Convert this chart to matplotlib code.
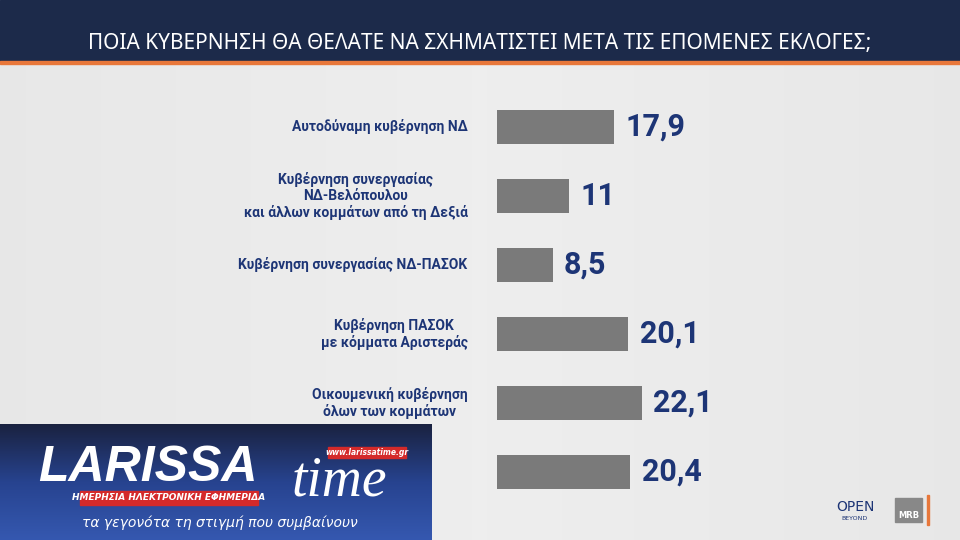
import matplotlib
matplotlib.use("Agg")
import matplotlib.pyplot as plt
import numpy as np
from matplotlib.patches import Rectangle

title = "ΠΟΙΑ ΚΥΒΕΡΝΗΣΗ ΘΑ ΘΕΛΑΤΕ ΝΑ ΣΧΗΜΑΤΙΣΤΕΙ ΜΕΤΑ ΤΙΣ ΕΠΟΜΕΝΕΣ ΕΚΛΟΓΕΣ;"
categories = ["Αυτοδύναμη κυβέρνηση ΝΔ",
              "Κυβέρνηση συνεργασίας\nΝΔ-Βελόπουλου\nκαι άλλων κομμάτων από τη Δεξιά",
              "Κυβέρνηση συνεργασίας ΝΔ-ΠΑΣΟΚ",
              "Κυβέρνηση ΠΑΣΟΚ\nμε κόμματα Αριστεράς",
              "Οικουμενική κυβέρνηση\nόλων των κομμάτων",
              ""]
values = [17.9, 11, 8.5, 20.1, 22.1, 20.4]
value_labels = ["17,9", "11", "8,5", "20,1", "22,1", "20,4"]

W, H = 960, 540
fig = plt.figure(figsize=(9.6, 5.4), dpi=100)
bg = fig.add_axes([0, 0, 1, 1])
bg.set_xlim(0, W); bg.set_ylim(H, 0); bg.axis("off")
grad = np.linspace(0, 1, 256)[None, :]
bg.imshow(0.93 - 0.05 * np.abs(grad - 0.5), cmap="gray", vmin=0, vmax=1,
          extent=[0, W, H, 0], aspect="auto")
bg.add_patch(Rectangle((0, 0), W, 61, color="#1c2a4a"))
bg.add_patch(Rectangle((0, 61), W, 3, color="#e8773a"))
bg.text(W / 2, 44, title, color="white", fontsize=15, ha="center", va="center",
        family="Noto Sans")

navy = "#1d3576"
ax = fig.add_axes([497 / W, 1 - 506.5 / H, (957 - 497) / W, (506.5 - 92.5) / H])
ax.set_xlim(0, 460 / 6.54)
ax.set_ylim(5.5, -0.5)
ax.axis("off")
y = np.arange(len(values))
ax.barh(y, values, height=0.5, color="#7a7a7a")
for yi, v, lab, cat in zip(y, values, value_labels, categories):
    ax.text(v + 1.7, yi, lab, color=navy, fontsize=22, fontweight="bold",
            va="center", ha="left", family="Roboto")
    ax.text(-4.5, yi, cat, color=navy, fontsize=10, fontweight="bold",
            va="center", ha="right", multialignment="center", family="Roboto",
            linespacing=1.15)

# logo overlay bottom-left
lg = np.linspace(0, 1, 128)[:, None]
bg.imshow(lg, cmap=matplotlib.colors.LinearSegmentedColormap.from_list(
    "b", ["#1a2240", "#27438f", "#3558b0"]), extent=[0, 432, 540, 424], aspect="auto")
bg.text(38, 468, "LARISSA", color="white", fontsize=36, fontweight="bold",
        style="italic", va="center", family="Liberation Sans")
bg.text(292, 482, "time", color="white", fontsize=40, style="italic",
        va="center", family="Liberation Serif")
bg.add_patch(Rectangle((80, 491), 178, 14, color="#d42a2a"))
bg.text(169, 498, "ΗΜΕΡΗΣΙΑ ΗΛΕΚΤΡΟΝΙΚΗ ΕΦΗΜΕΡΙΔΑ", color="white", fontsize=6.5,
        fontweight="bold", style="italic", ha="center", va="center")
bg.add_patch(Rectangle((328, 447), 78, 11, color="#d42a2a"))
bg.text(367, 452.5, "www.larissatime.gr", color="white", fontsize=5.5,
        fontweight="bold", style="italic", ha="center", va="center")
bg.text(220, 523, "τα γεγονότα τη στιγμή που συμβαίνουν", color="white",
        fontsize=10, style="italic", ha="center", va="center")

# bottom-right logos
bg.text(855, 507, "OPEN", color="#1d3576", fontsize=10, ha="center", va="center")
bg.text(855, 519, "BEYOND", color="#1d3576", fontsize=4.5, ha="center", va="center")
bg.add_patch(Rectangle((895, 498), 27, 24, color="#888888"))
bg.text(908.5, 515, "MRB", color="white", fontsize=6, fontweight="bold", ha="center", va="center")
bg.add_patch(Rectangle((927, 495), 2, 30, color="#e8773a"))

fig.savefig("out.png", dpi=100)
